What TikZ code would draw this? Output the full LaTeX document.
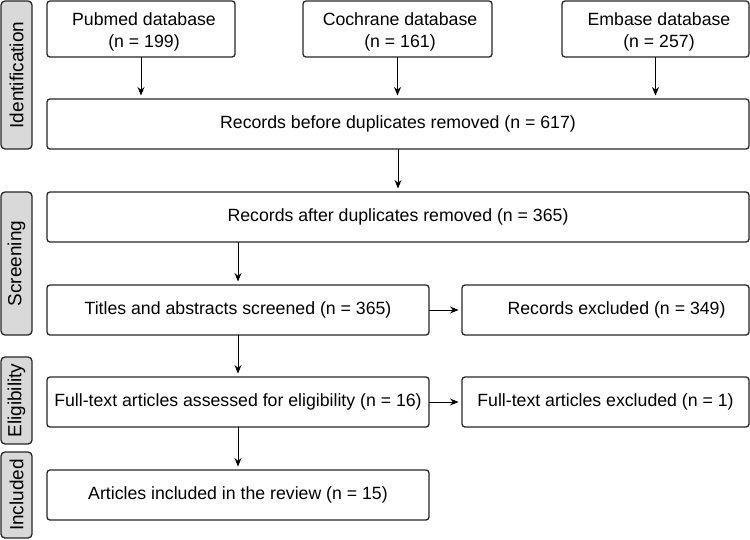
\documentclass[tikz,border=0pt]{standalone}
\usepackage{fontspec}
\setmainfont{Liberation Sans}
\usetikzlibrary{arrows.meta}
\definecolor{bordercol}{HTML}{262626}
\definecolor{sidefill}{HTML}{D9D9D9}
\tikzset{
  box/.style={draw=bordercol, line width=1.3pt, rounded corners=3pt, fill=white,
    inner sep=0pt, outer sep=0pt, align=center, font=\fontsize{17.7}{22}\selectfont},
  side/.style={draw=bordercol, line width=1.3pt, rounded corners=4pt, fill=sidefill,
    inner sep=0pt, outer sep=0pt, minimum width=31pt, font=\fontsize{19}{22}\selectfont},
  arr/.style={line width=0.9pt, -{Stealth[length=8.5pt,width=7pt]}, shorten >=3.5pt}
}
\begin{document}
\begin{tikzpicture}[x=1pt,y=-1pt]
\useasboundingbox (0,0) rectangle (750,539);
% side labels
\node[side, minimum height=148pt] (sid) at (16.5,75) {\rotatebox{90}{Identification}};
\node[side, minimum height=143pt] (sscr) at (16.5,263.5) {\rotatebox{90}{Screening}};
\node[side, minimum height=87pt] (selig) at (16.5,400.5) {\rotatebox{90}{Eligibility}};
\node[side, minimum height=86pt] (sinc) at (16.5,495) {\rotatebox{90}{Included}};
% boxes
\node[box, minimum width=188pt, minimum height=56pt] (pub) at (141,29) {};
\node[box, minimum width=189pt, minimum height=56pt] (coch) at (397.5,29) {};
\node[box, minimum width=187pt, minimum height=56pt] (emb) at (655.5,29) {};
\node[box, draw=none, fill=none] (pubt) at (144,32) {Pubmed database\\(n = 199)};
\node[box, draw=none, fill=none] (cocht) at (400,32) {Cochrane database\\(n = 161)};
\node[box, draw=none, fill=none] (embt) at (659,32) {Embase database\\(n = 257)};
\node[box, minimum width=702pt, minimum height=50pt] (before) at (398,124) {Records before duplicates removed (n = 617)};
\node[box, minimum width=702pt, minimum height=50pt] (after) at (398,217) {Records after duplicates removed (n = 365)};
\node[box, minimum width=382pt, minimum height=50pt] (titles) at (238,310) {Titles and abstracts screened (n = 365)};
\node[box, minimum width=287pt, minimum height=50pt] (recex) at (605.5,310) {\hspace{22pt}Records excluded (n = 349)};
\node[box, minimum width=382pt, minimum height=50pt] (full) at (238,402) {Full-text articles assessed for eligibility (n = 16)};
\node[box, minimum width=287pt, minimum height=50pt] (fullex) at (605.5,402) {Full-text articles excluded (n = 1)};
\node[box, minimum width=382pt, minimum height=50pt] (art) at (238,495) {Articles included in the review (n = 15)};
% arrows
\draw[arr] (pub.south) -- (pub.south |- before.north);
\draw[arr] (coch.south) -- (coch.south |- before.north);
\draw[arr] (emb.south) -- (emb.south |- before.north);
\draw[arr] (before.south) -- (after.north);
\draw[arr] (titles.north |- after.south) -- (titles.north);
\draw[arr] (titles.east) -- (recex.west);
\draw[arr] (titles.south) -- (full.north);
\draw[arr] (full.east) -- (fullex.west);
\draw[arr] (full.south) -- (art.north);
\end{tikzpicture}
\end{document}
